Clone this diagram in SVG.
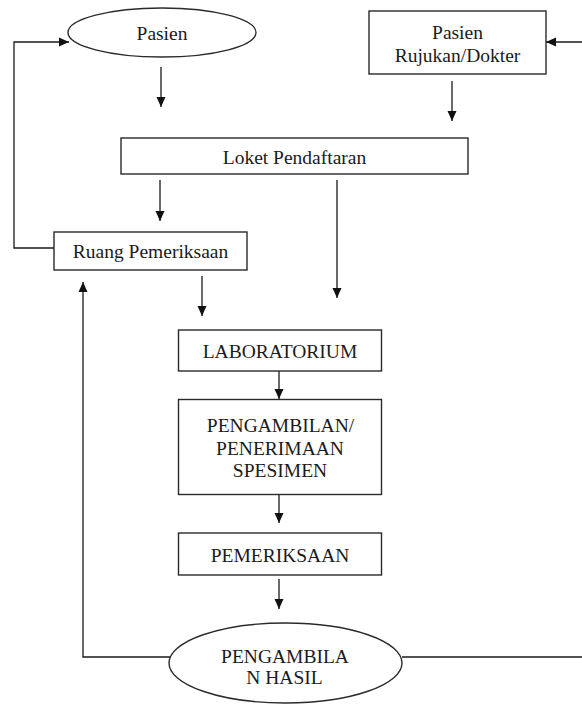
<svg xmlns="http://www.w3.org/2000/svg" width="582" height="704" viewBox="0 0 582 704">
<style>
.box{fill:#fff;stroke:#2a2a2a;stroke-width:1.4}
.lbl{font-family:'Liberation Serif','Times New Roman',serif;font-size:19.5px;fill:#1a1a1a;text-anchor:middle}
.con{fill:none;stroke:#1a1a1a;stroke-width:1.3}
</style>
<defs>
<marker id="ah" markerUnits="userSpaceOnUse" markerWidth="10" markerHeight="10" refX="10" refY="5" orient="auto">
<path d="M0,0.5 L10,5 L0,9.5 Z" fill="#111"/>
</marker>
</defs>
<rect width="582" height="704" fill="#fff"/>
<g id="connectors">
<path class="con" d="M54,248 H14 V42 H69" marker-end="url(#ah)"/>
<path class="con" d="M161,67 V107" marker-end="url(#ah)"/>
<path class="con" d="M582,42 H546" marker-end="url(#ah)"/>
<path class="con" d="M452,81 V121" marker-end="url(#ah)"/>
<path class="con" d="M160,180 V221" marker-end="url(#ah)"/>
<path class="con" d="M337,180 V298" marker-end="url(#ah)"/>
<path class="con" d="M202,276 V316" marker-end="url(#ah)"/>
<path class="con" d="M170,657 H83 V282" marker-end="url(#ah)"/>
<path class="con" d="M402,657 H582"/>
<path class="con" d="M279,371 V399" marker-end="url(#ah)"/>
<path class="con" d="M279,495 V523" marker-end="url(#ah)"/>
<path class="con" d="M279,579 V609" marker-end="url(#ah)"/>
</g>
<g id="pasien">
<ellipse class="box" cx="162" cy="32.5" rx="94" ry="24.5"/>
<text class="lbl" x="162" y="40">Pasien</text>
</g>
<g id="rujukan">
<rect class="box" x="369" y="11" width="177" height="63"/>
<text class="lbl" x="457.5" y="39">Pasien</text>
<text class="lbl" x="457.5" y="62">Rujukan/Dokter</text>
</g>
<g id="loket">
<rect class="box" x="121" y="138" width="347" height="36"/>
<text class="lbl" x="294.5" y="163.5">Loket Pendaftaran</text>
</g>
<g id="ruang">
<rect class="box" x="54" y="232" width="193" height="38"/>
<text class="lbl" x="150.5" y="257.5">Ruang Pemeriksaan</text>
</g>
<g id="laboratorium">
<rect class="box" x="178.5" y="330" width="203" height="41"/>
<text class="lbl" x="280" y="357.5">LABORATORIUM</text>
</g>
<g id="pengambilan">
<rect class="box" x="178.5" y="399.5" width="203" height="95"/>
<text class="lbl" x="280.5" y="432">PENGAMBILAN/</text>
<text class="lbl" x="280" y="454.5">PENERIMAAN</text>
<text class="lbl" x="280" y="477">SPESIMEN</text>
</g>
<g id="pemeriksaan">
<rect class="box" x="178.5" y="533" width="203" height="42"/>
<text class="lbl" x="280" y="561.5">PEMERIKSAAN</text>
</g>
<g id="hasil">
<ellipse class="box" cx="285.5" cy="663" rx="116.5" ry="40"/>
<text class="lbl" x="285" y="662.5">PENGAMBILA</text>
<text class="lbl" x="284.5" y="683.5">N HASIL</text>
</g>
</svg>
